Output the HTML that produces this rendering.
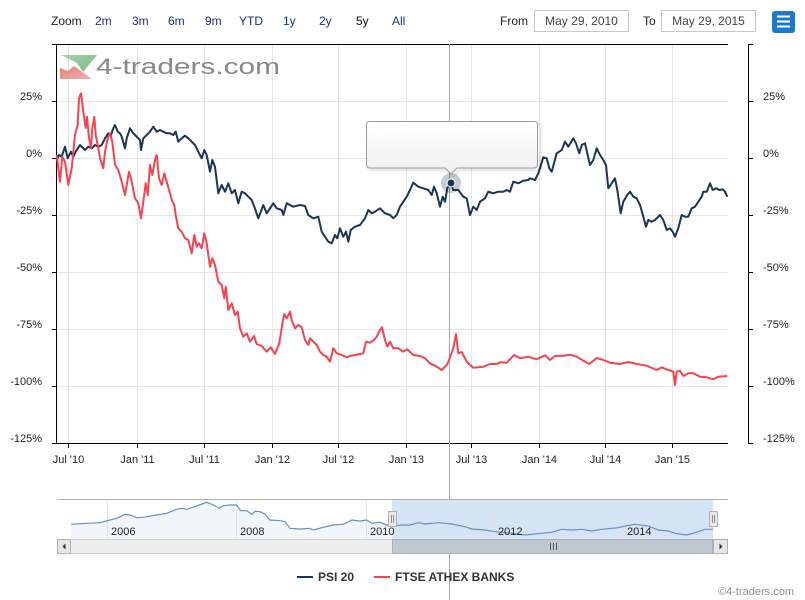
<!DOCTYPE html>
<html><head><meta charset="utf-8"><style>
html,body{margin:0;padding:0;background:#fff;width:805px;height:600px;overflow:hidden}
svg{display:block;font-family:"Liberation Sans",Arial,sans-serif}
</style></head><body>
<svg width="805" height="600" viewBox="0 0 805 600" xmlns="http://www.w3.org/2000/svg">
<defs>
<linearGradient id="tt" x1="0" y1="0" x2="0" y2="1"><stop offset="0" stop-color="#ffffff"/><stop offset="1" stop-color="#f0f0f0"/></linearGradient>
<linearGradient id="lg" x1="0" y1="0" x2="1" y2="1"><stop offset="0" stop-color="#9ccc9c"/><stop offset="1" stop-color="#5fae6f"/></linearGradient>
<linearGradient id="lr" x1="0" y1="0" x2="1" y2="1"><stop offset="0" stop-color="#e06a6a"/><stop offset="1" stop-color="#f2a0a0"/></linearGradient>
</defs>
<rect width="805" height="600" fill="#fff"/>

<!-- range selector -->
<g font-size="12">
<text x="51" y="25" fill="#222">Zoom</text>
<g fill="#1b2e8e">
<text x="95" y="25">2m</text><text x="132" y="25">3m</text><text x="168" y="25">6m</text><text x="205" y="25">9m</text><text x="239" y="25">YTD</text><text x="283" y="25">1y</text><text x="319" y="25">2y</text><text x="392" y="25">All</text>
</g>
<text x="356" y="25" fill="#111">5y</text>
<text x="500" y="25" fill="#222">From</text>
<rect x="534.5" y="10.5" width="94" height="21" fill="#fff" stroke="#c8c8c8"/>
<text x="581.5" y="25" text-anchor="middle" fill="#444">May 29, 2010</text>
<text x="643" y="25" fill="#222">To</text>
<rect x="661.5" y="10.5" width="94" height="21" fill="#fff" stroke="#c8c8c8"/>
<text x="708.5" y="25" text-anchor="middle" fill="#444">May 29, 2015</text>
</g>
<rect x="772" y="11" width="23" height="22" rx="3" fill="#1b7bc9"/>
<g stroke="#fff" stroke-width="2"><line x1="777" y1="16.5" x2="790" y2="16.5"/><line x1="777" y1="21.5" x2="790" y2="21.5"/><line x1="777" y1="26.5" x2="790" y2="26.5"/></g>

<!-- grid -->
<g stroke="#e6e6e6" stroke-width="1">
<line x1="57" y1="101.5" x2="728" y2="101.5"/><line x1="57" y1="158.5" x2="728" y2="158.5"/><line x1="57" y1="215.5" x2="728" y2="215.5"/><line x1="57" y1="272.5" x2="728" y2="272.5"/><line x1="57" y1="329.5" x2="728" y2="329.5"/><line x1="57" y1="386.5" x2="728" y2="386.5"/>
<line x1="68.5" y1="44" x2="68.5" y2="443"/><line x1="137.5" y1="44" x2="137.5" y2="443"/><line x1="204.5" y1="44" x2="204.5" y2="443"/><line x1="272.5" y1="44" x2="272.5" y2="443"/><line x1="338.5" y1="44" x2="338.5" y2="443"/><line x1="406.5" y1="44" x2="406.5" y2="443"/><line x1="471.5" y1="44" x2="471.5" y2="443"/><line x1="539.5" y1="44" x2="539.5" y2="443"/><line x1="605.5" y1="44" x2="605.5" y2="443"/><line x1="672.5" y1="44" x2="672.5" y2="443"/>
</g>

<!-- logo -->
<g opacity="0.85">
<polygon points="61,55 97,55 83,72 77,63" fill="url(#lg)"/>
<polygon points="60,79 92,79 74,66 68,71 60,68" fill="url(#lr)"/>
</g>
<text x="96" y="74" font-size="22" fill="#888" textLength="184" lengthAdjust="spacingAndGlyphs">4-traders.com</text>

<!-- axes -->
<g stroke="#000" stroke-width="1" fill="none">
<path d="M52,44.5 H728"/>
<path d="M56.5,44 V443.5"/>
<path d="M52,101.5 H57 M52,158.5 H57 M52,215.5 H57 M52,272.5 H57 M52,329.5 H57 M52,386.5 H57"/>
<path d="M52,443.5 H728"/>
<path d="M68.5,443 V448 M137.5,443 V448 M204.5,443 V448 M272.5,443 V448 M338.5,443 V448 M406.5,443 V448 M471.5,443 V448 M539.5,443 V448 M605.5,443 V448 M672.5,443 V448"/>
<path d="M748.5,44 V443.5"/>
<path d="M748,44.5 H753 M748,101.5 H753 M748,158.5 H753 M748,215.5 H753 M748,272.5 H753 M748,329.5 H753 M748,386.5 H753 M748,443.5 H753"/>
</g>
<g font-size="11" fill="#222" text-anchor="end">
<text x="42" y="100">25%</text><text x="42" y="157">0%</text><text x="42" y="214">-25%</text><text x="42" y="271">-50%</text><text x="42" y="328">-75%</text><text x="42" y="385">-100%</text><text x="42" y="442">-125%</text>
</g>
<g font-size="11" fill="#222">
<text x="763" y="100">25%</text><text x="763" y="157">0%</text><text x="763" y="214">-25%</text><text x="763" y="271">-50%</text><text x="763" y="328">-75%</text><text x="763" y="385">-100%</text><text x="763" y="442">-125%</text>
</g>
<g font-size="11" fill="#222" text-anchor="middle">
<text x="68.5" y="463">Jul '10</text><text x="137.5" y="463">Jan '11</text><text x="204.5" y="463">Jul '11</text><text x="272.5" y="463">Jan '12</text><text x="338.5" y="463">Jul '12</text><text x="406.5" y="463">Jan '13</text><text x="471.5" y="463">Jul '13</text><text x="539.5" y="463">Jan '14</text><text x="605.5" y="463">Jul '14</text><text x="672.5" y="463">Jan '15</text>
</g>

<!-- crosshair -->
<line x1="449.5" y1="44" x2="449.5" y2="600" stroke="#a8a8a8" stroke-width="1"/>

<!-- series -->
<path fill="none" stroke="#1c3554" stroke-width="2" stroke-linejoin="round" d="M56.7,160 L59,155 L61.7,156.7 L65,146.7 L67.7,158.3 L71,151.7 L73.3,156.7 L75.7,151.7 L80,145 L85,150 L88.3,146.7 L91.7,148.3 L95,145 L98.3,146.7 L101.7,145 L105,138.3 L108.3,133.3 L111,135 L113.3,128.3 L115,125 L117.7,131.7 L120,133.3 L121.7,136.7 L125,148.3 L126.7,138.3 L130,128.3 L133.3,133.3 L136.7,136.7 L140,140 L141,150 L143.3,138.3 L146.7,135 L150,131.7 L153.3,126.7 L156.7,131.7 L160,130 L163.3,131.7 L166.7,133.3 L170,133.3 L173.3,135 L175.7,131.7 L178.3,141.7 L181.7,138.3 L185,135.7 L188.3,138.3 L191.7,141.7 L195,145 L198.3,151.7 L201.7,158.3 L204.3,150 L206.7,155 L210,171.7 L212.3,160 L215,166.7 L218.3,193.3 L221.7,185 L225,191.7 L228.3,183.3 L231.7,193.3 L235,190 L238.3,203.3 L241.7,191.7 L245,193.3 L248.3,196.7 L251.7,200 L254.3,206.7 L258.3,218.3 L263.3,205 L266.7,213.3 L273.3,203.3 L276.7,208.3 L281.7,210 L283.3,215 L286.7,203.3 L293.3,206.7 L300,205 L305,206 L308.3,215 L313.3,218.3 L318.3,216.7 L321.7,231.7 L325,236.7 L328.3,241.7 L331.7,243.3 L335,235 L337.3,238.3 L340,228.3 L343.3,236.7 L346,231.7 L348.3,241.7 L350.7,230 L355,226.7 L360,225 L365,218.3 L368.3,210 L371.7,213.3 L375,211.7 L380,208.3 L385,213.3 L390,215 L393.3,218.3 L396.7,215 L400,206.7 L403.3,201.7 L406.7,196.7 L410,190 L413.3,182.7 L418.3,186.7 L423.3,188.3 L428.3,190 L431.7,195 L434,186.7 L436.7,193.3 L440,206.7 L442.7,196.7 L445,201.7 L447.3,188.3 L450.7,183.3 L453.3,190 L458.3,190 L463.3,196.7 L466.7,198.3 L470,215 L473.3,206.7 L476.7,210 L480,201.7 L485,198.3 L488.3,191.7 L493.3,193.3 L498.3,191.7 L503.3,191.7 L506.7,190 L510,191.7 L513.3,181.7 L518.3,183.3 L523.3,180.7 L528.3,180 L530,178.3 L535,180 L538.3,173.3 L543.3,157.3 L546.7,158.3 L549.3,168.3 L551.7,171.7 L554,163.3 L556.7,153.3 L561.7,150 L565,141.7 L568.3,146.7 L573.3,138.3 L576,143.3 L579.3,153.3 L581.7,145 L585,143.3 L587.3,153.3 L590,165 L593.3,160 L596.7,148.3 L600,155 L603.3,160 L606,165 L608.3,188.3 L611.7,183.3 L615,178.3 L617.3,190 L620.7,213.3 L623.3,201.7 L627.3,195 L630,191.7 L633.3,196.7 L636.7,198.3 L640,205 L643.3,216.7 L646,226.7 L648.3,220 L651.7,221.7 L655,220 L660,215 L663.3,220 L666.7,230 L670,228.3 L672.7,231.7 L675,236.7 L678.3,228.3 L681.7,215 L685,216.7 L688.3,216.7 L691.7,208.3 L695,206.7 L698.3,201.7 L701.7,196.7 L703.3,191.7 L706.7,191.7 L710,183.3 L712.7,190 L716,188.3 L719.3,190 L722.7,189.3 L725,191.7 L727.3,196.7"/>
<path fill="none" stroke="#f5434f" stroke-width="2" stroke-linejoin="round" d="M56.7,155 L60,181.7 L62.3,156.7 L65,161.7 L68.3,185 L71.7,168.3 L75,135 L77.7,125 L79,98.3 L81,93.3 L83.3,111.7 L85.7,128 L87,116.7 L89,138 L91,148 L92.3,128 L94.3,116.7 L95.7,135 L97.7,145 L100,158 L103.3,168.3 L105,151.7 L107.7,138.3 L110,133.3 L112.3,141.7 L115,165 L118.3,170 L121.7,181.7 L125,195 L126.7,185 L129,171.7 L131.7,181.7 L135,198.3 L138.3,203.3 L141,218.3 L143.3,201.7 L145.7,183.3 L147.7,195 L150,165 L152.3,175 L155,160 L156.7,155 L159,178.3 L161.7,185 L164.3,173.3 L166.7,181.7 L170,193.3 L171.7,200 L174.3,205 L175.7,215 L178.3,228.3 L181.7,231.7 L185,238.3 L188.3,240 L191.7,253.3 L194.3,235 L196.7,246.7 L199,243.3 L201.7,248.3 L204.3,233.3 L206.7,243.3 L210,266.7 L212.3,258.3 L215,265 L218.3,281.7 L221.7,285 L224.3,298.3 L225.7,286.7 L228.3,310 L231.7,303.3 L235,315 L237.7,311.7 L240,328.3 L243.3,336.7 L246.7,333.3 L250,341.7 L254,336 L256.7,344 L261.7,346 L266.7,351.7 L270.7,347.3 L275,354 L279.3,343.3 L282.7,321.7 L284.3,314 L286.7,318.3 L290,311.7 L291.7,320 L295,328.3 L298.3,325 L301.7,327.3 L305,340 L308.3,345 L310,338.3 L313.3,341.7 L316.7,345 L320,351.7 L323.3,355 L326.7,356.7 L330,361.7 L333.3,348.3 L336.7,353.3 L341.7,355 L346.7,357.3 L350,356 L355,355 L360,354 L363.3,353.3 L366,341.7 L370,342.7 L374,340 L376.7,336.7 L380,330 L382,327.3 L385,340 L387.3,346.7 L390,341.7 L393.3,348.3 L398.3,348.3 L403.3,351.7 L407.3,349.3 L413.3,355 L420,356 L425,358.3 L430,363.3 L436.7,366.7 L441.7,370 L446.7,365 L448.3,361.7 L453.3,348.3 L456,334 L458.3,353.3 L461.7,352 L466.7,361.7 L473.3,367.7 L483.3,366.7 L490,364 L496.7,364 L500,362.3 L506.7,362.7 L510,359.3 L514,355 L520,358.3 L528.3,356.7 L536.7,359.3 L545,355.3 L550,360 L555,356 L563.3,355.7 L570,354.7 L576.7,356.7 L583.3,360.7 L589.3,364 L596.7,358 L603.3,360 L610,362.7 L620,364 L628.3,362 L636.7,364 L646.7,365.7 L656.7,370 L661.7,367.3 L668.3,370 L673.3,371.7 L675,385 L676.7,371.7 L680,370.7 L683.3,376 L688.3,373.3 L693.3,373.3 L700,376.7 L706.7,377.3 L713.3,379.3 L718.3,376.7 L727.3,376"/>

<!-- marker -->
<circle cx="451" cy="183" r="10" fill="#1c3554" fill-opacity="0.25"/>
<circle cx="451" cy="183" r="4" fill="#1c3554" stroke="#fff" stroke-width="1"/>

<!-- tooltip -->
<path d="M370,122.5 H537 a3,3 0 0 1 3,3 V166 a3,3 0 0 1 -3,3 H458 L452,175 L446,169 H370 a3,3 0 0 1 -3,-3 V125.5 a3,3 0 0 1 3,-3 Z" fill="none" stroke="#000" stroke-opacity="0.08" stroke-width="3" transform="translate(1,1)"/>
<path d="M369.5,121.5 H534.5 a3,3 0 0 1 3,3 V165 a3,3 0 0 1 -3,3 H457 L451,174 L445,168 H369.5 a3,3 0 0 1 -3,-3 V124.5 a3,3 0 0 1 3,-3 Z" fill="url(#tt)" stroke="#9a9a9a" stroke-width="1"/>

<!-- navigator -->
<path d="M71,524.3 L86.7,523.3 L100,522.7 L110,520 L116.7,518.3 L125,514.3 L130,515 L136.7,517.7 L143.3,517.3 L156.7,515 L166.7,513.3 L176.7,509.3 L182.7,508.3 L186.7,509.3 L196.7,506 L206.7,502.3 L213.3,505 L219.3,508.3 L223.3,505.7 L230,505 L236.7,505 L240.7,510.7 L246.7,510.7 L251.7,514.3 L255,511.3 L260,511.7 L265,514 L270,520 L280,520.7 L285,521.7 L290,528.3 L300,529 L310,528.3 L313.3,530 L323.3,527.3 L333.3,525 L343.3,524.3 L351.7,520 L360,521 L366.7,520 L371.7,523.3 L380,522.3 L386.7,525 L393.3,525.7 L713.3,529.3 L713.3,539 L71,539 Z" fill="#f2f6fa"/>
<rect x="392" y="499.5" width="321" height="39.5" fill="#d6e5f6"/>
<g stroke="#e3e3e3" stroke-width="1">
<line x1="107.5" y1="500" x2="107.5" y2="539"/><line x1="236.5" y1="500" x2="236.5" y2="539"/><line x1="366.5" y1="500" x2="366.5" y2="539"/><line x1="494.5" y1="500" x2="494.5" y2="539"/><line x1="623.5" y1="500" x2="623.5" y2="539"/>
</g>
<path fill="none" stroke="#6a8fc4" stroke-width="1.2" d="M71,524.3 L86.7,523.3 L100,522.7 L110,520 L116.7,518.3 L125,514.3 L130,515 L136.7,517.7 L143.3,517.3 L156.7,515 L166.7,513.3 L176.7,509.3 L182.7,508.3 L186.7,509.3 L196.7,506 L206.7,502.3 L213.3,505 L219.3,508.3 L223.3,505.7 L230,505 L236.7,505 L240.7,510.7 L246.7,510.7 L251.7,514.3 L255,511.3 L260,511.7 L265,514 L270,520 L280,520.7 L285,521.7 L290,528.3 L300,529 L310,528.3 L313.3,530 L323.3,527.3 L333.3,525 L343.3,524.3 L351.7,520 L360,521 L366.7,520 L371.7,523.3 L380,522.3 L386.7,525 L393.3,525.7 L401.7,525 L410,525 L418.3,522.7 L425,524 L438.3,522.7 L451.7,524 L465,526.7 L471.7,529 L485,530 L495,531.7 L511.7,533.3 L525,535 L541.7,533.3 L551.7,532.3 L561.7,529.3 L571.7,530 L581.7,529.3 L591.7,531 L601.7,529.3 L618.3,527.7 L625,526 L635,524.3 L648.3,526 L658.3,530 L668.3,531 L675,533.3 L686.7,535 L695,532.7 L705,529.3 L713.3,529.3"/>
<line x1="57" y1="499.5" x2="728" y2="499.5" stroke="#b0b0b0" stroke-width="1"/>
<g font-size="11" fill="#222">
<text x="111" y="535">2006</text><text x="240" y="535">2008</text><text x="370" y="535">2010</text><text x="498" y="535">2012</text><text x="627" y="535">2014</text>
</g>
<!-- scrollbar -->
<rect x="57.5" y="539.5" width="670" height="14" fill="#eeeeee" stroke="#d0d0d0"/>
<rect x="392.5" y="539.5" width="320" height="14" fill="#bfc7d1" stroke="#b0b0b0"/>
<g stroke="#555" stroke-width="1"><line x1="550.5" y1="543" x2="550.5" y2="550"/><line x1="553.5" y1="543" x2="553.5" y2="550"/><line x1="556.5" y1="543" x2="556.5" y2="550"/></g>
<rect x="57.5" y="539.5" width="13" height="14" fill="#e6e6e6" stroke="#b0b0b0"/>
<polygon points="65.5,543.5 65.5,549.5 62.5,546.5" fill="#333"/>
<rect x="713.5" y="539.5" width="14" height="14" fill="#e6e6e6" stroke="#b0b0b0"/>
<polygon points="719.5,543.5 719.5,549.5 722.5,546.5" fill="#333"/>
<!-- handles -->
<g fill="#ebe7e8" stroke="#b2b1b6" stroke-width="1">
<rect x="388.5" y="511.5" width="8" height="15"/>
<rect x="709.5" y="511.5" width="8" height="15"/>
</g>
<g stroke="#8f8f8f" stroke-width="1">
<line x1="391.5" y1="515" x2="391.5" y2="523"/><line x1="393.5" y1="515" x2="393.5" y2="523"/>
<line x1="712.5" y1="515" x2="712.5" y2="523"/><line x1="714.5" y1="515" x2="714.5" y2="523"/>
</g>

<!-- legend -->
<line x1="297" y1="577" x2="313" y2="577" stroke="#1c3554" stroke-width="2"/>
<text x="318" y="581" font-size="12" font-weight="bold" fill="#333">PSI 20</text>
<line x1="374" y1="577" x2="390" y2="577" stroke="#f5434f" stroke-width="2"/>
<text x="395" y="581" font-size="12" font-weight="bold" fill="#333">FTSE ATHEX BANKS</text>

<text x="794" y="595" font-size="11" fill="#909090" text-anchor="end">©4-traders.com</text>
</svg>
</body></html>
